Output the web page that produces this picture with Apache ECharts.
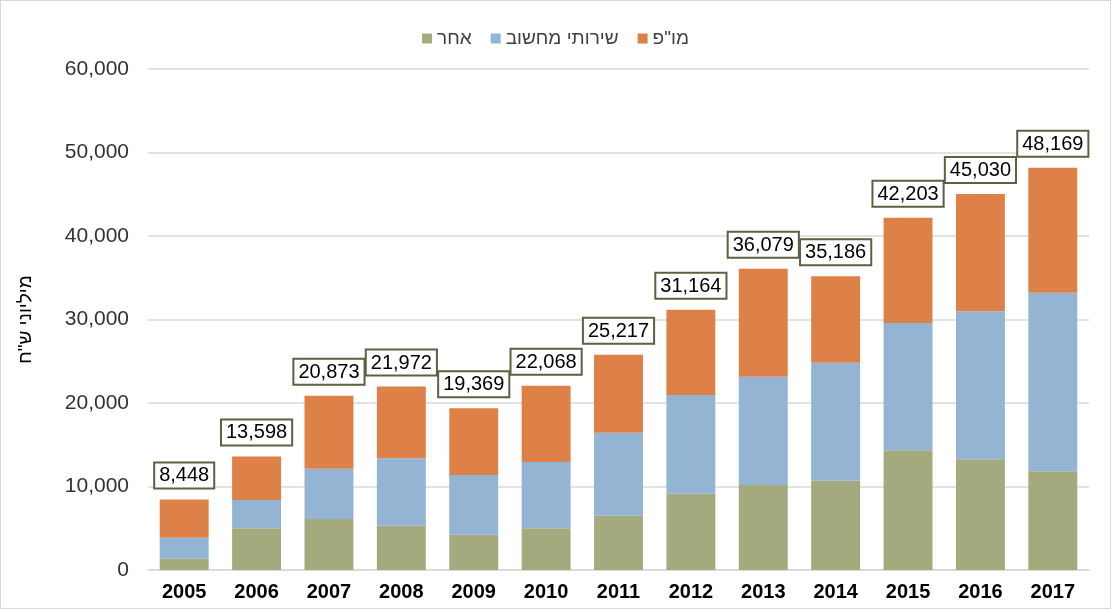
<!DOCTYPE html>
<html>
<head>
<meta charset="utf-8">
<script src="https://cdn.jsdelivr.net/npm/echarts@6/dist/echarts.min.js"></script>
<style>
  html, body { margin: 0; padding: 0; background: #fff; }
  #main { width: 1109px; height: 607px; border: 1px solid #d9d9d9; }
</style>
</head>
<body>
<div id="main"></div>
<script>
let years = ['2005', '2006', '2007', '2008', '2009', '2010', '2011', '2012', '2013', '2014', '2015', '2016', '2017'];
// אחר
let other = [1350, 4990, 6110, 5310, 4230, 4990, 6500, 9140, 10180, 10700, 14330, 13250, 11820];
// שירותי מחשוב
let computing = [2520, 3390, 6020, 8060, 7150, 7940, 9940, 11820, 12970, 14130, 15250, 17730, 21390];
// מו"פ
let rnd = [4580, 5220, 8740, 8600, 7990, 9140, 9340, 10200, 12930, 10360, 12620, 14050, 14960];
// total labels as printed
let totals = [8448, 13598, 20873, 21972, 19369, 22068, 25217, 31164, 36079, 35186, 42203, 45030, 48169];

let font = 'Liberation Sans, Arial, sans-serif';
let myChart = echarts.init(document.getElementById('main'));

let option = {
    animation: false,
    textStyle: { fontFamily: font },
    legend: {
        top: 23,
        left: 'center',
        itemWidth: 10,
        itemHeight: 10,
        itemGap: 19,
        icon: 'rect',
        textStyle: { fontSize: 19, color: '#404040', fontFamily: font },
        data: ['אחר', 'שירותי מחשוב', 'מו"פ']
    },
    grid: { left: 147, right: 21, top: 68, bottom: 38 },
    xAxis: {
        type: 'category',
        data: years,
        axisTick: { show: false },
        axisLine: { lineStyle: { color: '#d9d9d9', width: 1.5 } },
        axisLabel: { fontSize: 20, fontWeight: 'bold', color: '#000', margin: 12 }
    },
    yAxis: {
        type: 'value',
        min: 0,
        max: 60000,
        interval: 10000,
        name: 'מיליוני ש"ח',
        nameLocation: 'middle',
        nameGap: 113,
        nameTextStyle: { fontSize: 19, color: '#000' },
        axisLabel: {
            fontSize: 21,
            color: '#333',
            margin: 19,
            formatter: v => v.toLocaleString('en-US')
        },
        splitLine: { lineStyle: { color: '#d9d9d9', width: 1.5 } }
    },
    series: [
        {
            name: 'אחר',
            type: 'bar',
            stack: 'total',
            barWidth: '67.6%',
            itemStyle: { color: '#a4aa7e' },
            data: other
        },
        {
            name: 'שירותי מחשוב',
            type: 'bar',
            stack: 'total',
            itemStyle: { color: '#93b4d3' },
            data: computing
        },
        {
            name: 'מו"פ',
            type: 'bar',
            stack: 'total',
            itemStyle: { color: '#de8148' },
            data: rnd,
            label: {
                show: true,
                position: 'top',
                distance: 12,
                fontSize: 20,
                lineHeight: 21,
                color: '#000',
                backgroundColor: '#fff',
                borderColor: '#5a6242',
                borderWidth: 2,
                padding: [2, 4, 1, 4],
                formatter: p => totals[p.dataIndex].toLocaleString('en-US')
            }
        }
    ]
};

myChart.setOption(option);
</script>
</body>
</html>
